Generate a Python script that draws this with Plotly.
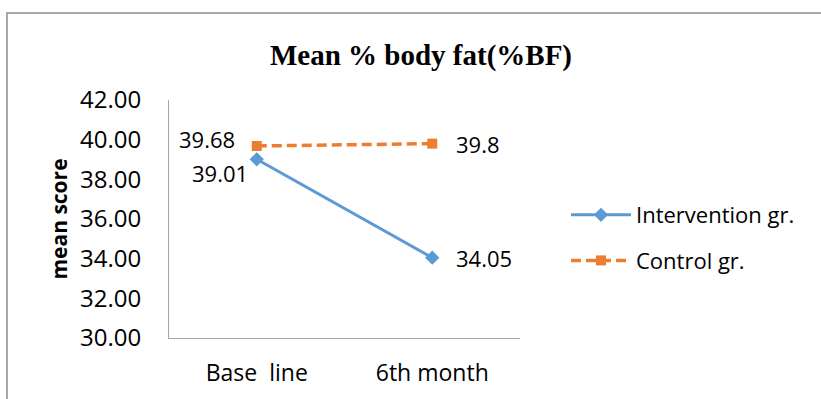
import plotly.graph_objects as go

categories = ["Base  line", "6th month"]
intervention = [39.01, 34.05]
control = [39.68, 39.8]
series_names = ["Intervention gr.", "Control gr."]
y_ticks = [30, 32, 34, 36, 38, 40, 42]
y_tick_labels = ["30.00", "32.00", "34.00", "36.00", "38.00", "40.00", "42.00"]

BLUE = "#5B9BD5"
ORANGE = "#ED7D31"
FONT = "Open Sans"

W, H = 821, 399
L, R, T, B = 169, 301, 100, 61

fig = go.Figure()
fig.add_trace(go.Scatter(
    x=categories, y=intervention, name=series_names[0], mode="lines+markers",
    line=dict(color=BLUE, width=3), marker=dict(symbol="diamond", size=11, color=BLUE),
    legendgroup="a"))
fig.add_trace(go.Scatter(
    x=categories, y=control, name=series_names[1], mode="lines+markers",
    line=dict(color=ORANGE, width=3.5, dash="10px,5px"),
    marker=dict(symbol="square", size=10, color=ORANGE),
    legendgroup="b"))

# data labels
labels = [
    (categories[0], control[0], f"{control[0]:.2f}", "right", -20, 7),
    (categories[0], intervention[0], f"{intervention[0]:.2f}", "right", -7, -14),
    (categories[1], control[1], f"{control[1]:g}", "left", 22, 0),
    (categories[1], intervention[1], f"{intervention[1]:.2f}", "left", 22, 0),
]
for x, y, t, xa, xs, ys in labels:
    fig.add_annotation(x=x, y=y, text=t, showarrow=False, xanchor=xa, yanchor="middle",
                       xshift=xs, yshift=ys, font=dict(family=FONT, size=22, color="#000"))

# outer frame
def px2x(px):
    return (px - L) / (W - L - R)

def py2y(py):
    return (H - B - py) / (H - T - B)

fig.add_shape(type="rect", xref="paper", yref="paper",
              x0=px2x(7), x1=px2x(830), y0=py2y(410), y1=py2y(13),
              line=dict(color="#8c8c8c", width=1.5), fillcolor="rgba(0,0,0,0)", layer="below")

fig.update_layout(
    width=W, height=H,
    margin=dict(l=L, r=R, t=T, b=B, autoexpand=False),
    paper_bgcolor="white", plot_bgcolor="white",
    title=dict(text="<b>Mean % body fat(%BF)</b>", x=px2x(421), xref="paper", xanchor="center",
               y=1 - 55 / H, yanchor="middle", yref="container",
               font=dict(family="Liberation Serif", size=29, color="#000")),
    xaxis=dict(range=[-0.5, 1.5], showgrid=False, showline=True, linecolor="#a6a6a6", linewidth=1,
               ticks="", ticklabelstandoff=14,
               tickfont=dict(family=FONT, size=23, color="#000"), zeroline=False),
    yaxis=dict(range=[30, 42], tickvals=y_ticks, ticktext=y_tick_labels, showgrid=False,
               showline=True, linecolor="#a6a6a6", linewidth=1, ticks="", zeroline=False,
               ticklabelstandoff=22,
               tickfont=dict(family=FONT, size=24, color="#000"),
               title=dict(text="<b>mean score</b>", standoff=6,
                          font=dict(family=FONT, size=21, color="#000"))),
    legend=dict(x=px2x(566), y=py2y(238), xanchor="left", yanchor="middle",
                font=dict(family=FONT, size=22, color="#000"), tracegroupgap=14,
                itemwidth=60, bgcolor="rgba(0,0,0,0)"),
    showlegend=True,
)

fig.write_html("out.html", config={"displayModeBar": False},
               post_script="document.body.style.margin='0';")
